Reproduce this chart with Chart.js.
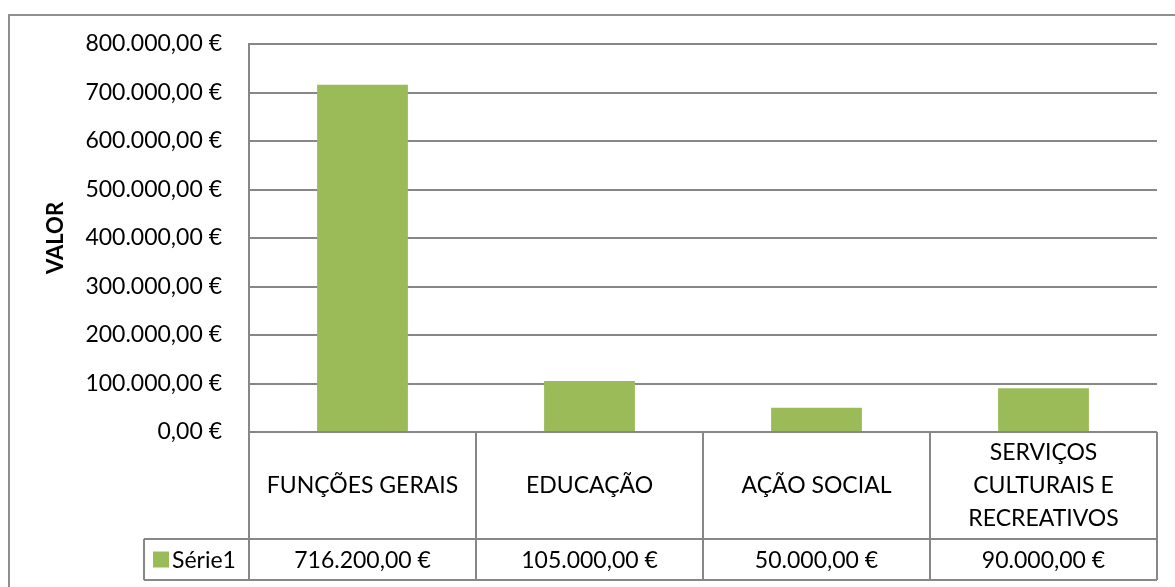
<!DOCTYPE html>
<html>
<head>
<meta charset="utf-8">
<script src="https://cdn.jsdelivr.net/npm/chart.js@4.4.1/dist/chart.umd.min.js"></script>
<style>
  html, body { margin: 0; padding: 0; background: #fff; }
  #wrap { width: 1175px; height: 587px; }
</style>
</head>
<body>
<div id="wrap"><canvas id="chart" width="1175" height="587"></canvas></div>
<script>
// chart data
const categories = ['FUNÇÕES GERAIS', 'EDUCAÇÃO', 'AÇÃO SOCIAL', ['SERVIÇOS', 'CULTURAIS E', 'RECREATIVOS']]
const seriesName = 'Série1'
const values = [716200, 105000, 50000, 90000]
const yMin = 0
const yMax = 800000
const yStep = 100000

const FONT = 'Lato, Carlito, Calibri, sans-serif'
const GRID = '#878787'
const GREEN = '#9bbb59'

// 716200 -> "716.200,00 €"
function euro(v) {
  const parts = Number(v).toFixed(2).split('.')
  const int = parts[0].replace(/\B(?=(\d{3})+(?!\d))/g, '.')
  return int + ',' + parts[1] + ' €'
}

// outer frame of the chart object (runs off to the right and bottom)
const framePlugin = {
  id: 'frame',
  beforeDraw(chart) {
    const ctx = chart.ctx
    ctx.save()
    ctx.strokeStyle = '#8f8f8f'
    ctx.lineWidth = 2
    ctx.beginPath()
    ctx.moveTo(9, 600)
    ctx.lineTo(9, 15)
    ctx.lineTo(1180, 15)
    ctx.stroke()
    ctx.restore()
  }
}

// data table under the plot, like the Excel one
const tablePlugin = {
  id: 'dataTable',
  afterDraw(chart) {
    const ctx = chart.ctx
    const area = chart.chartArea
    const x = chart.scales.x
    const n = categories.length
    const w = area.width / n
    const top = area.bottom
    const mid = top + 107
    const bot = mid + 41
    const keyLeft = area.left - 105

    ctx.save()
    ctx.strokeStyle = GRID
    ctx.lineWidth = 2
    ctx.beginPath()
    ctx.moveTo(keyLeft, mid); ctx.lineTo(area.right, mid)
    ctx.moveTo(keyLeft, bot); ctx.lineTo(area.right, bot)
    ctx.moveTo(keyLeft, mid); ctx.lineTo(keyLeft, bot)
    for (let i = 0; i <= n; i++) {
      const px = Math.round(area.left + i * w)
      ctx.moveTo(px, top); ctx.lineTo(px, bot)
    }
    ctx.stroke()

    ctx.fillStyle = '#000'
    ctx.font = '23px ' + FONT
    ctx.textAlign = 'center'
    ctx.textBaseline = 'middle'
    categories.forEach((c, i) => {
      const cx = x.getPixelForValue(i)
      const lines = Array.isArray(c) ? c : [c]
      const lh = 33
      const y0 = (top + mid) / 2 - (lines.length - 1) * lh / 2
      lines.forEach((t, j) => ctx.fillText(t, cx, y0 + j * lh))
      ctx.fillText(euro(values[i]), cx, (mid + bot) / 2 + 1)
    })

    // legend key
    ctx.fillStyle = GREEN
    ctx.fillRect(keyLeft + 9, (mid + bot) / 2 - 8, 16, 16)
    ctx.fillStyle = '#000'
    ctx.textAlign = 'left'
    ctx.fillText(seriesName, keyLeft + 28, (mid + bot) / 2 + 1)
    ctx.restore()
  }
}

new Chart(document.getElementById('chart'), {
  type: 'bar',
  data: {
    labels: categories,
    datasets: [{
      label: seriesName,
      data: values,
      backgroundColor: GREEN,
      borderWidth: 0,
      categoryPercentage: 1,
      barPercentage: 0.4
    }]
  },
  options: {
    responsive: false,
    animation: false,
    layout: { padding: { left: 43, right: 18, top: 44, bottom: 155 } },
    plugins: {
      legend: { display: false },
      tooltip: { enabled: false }
    },
    scales: {
      x: { display: false },
      y: {
        min: yMin,
        max: yMax,
        ticks: {
          stepSize: yStep,
          padding: 27,
          color: '#000',
          font: { family: FONT, size: 23 },
          callback: v => euro(v)
        },
        grid: { color: GRID, lineWidth: 2, drawTicks: false },
        border: { color: GRID, width: 2 },
        title: {
          display: true,
          text: 'VALOR',
          color: '#000',
          padding: 0,
          font: { family: FONT, size: 22, weight: 'bold' }
        },
        afterFit(scale) {
          // fixed axis width so the plot starts where it does in the original
          scale.width = 206
        }
      }
    }
  },
  plugins: [framePlugin, tablePlugin]
})
</script>
</body>
</html>
